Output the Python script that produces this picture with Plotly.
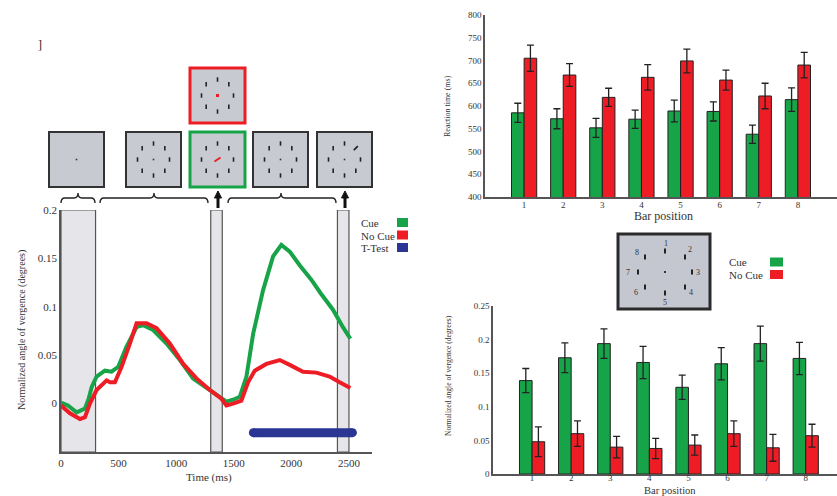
import math
import plotly.graph_objects as go

W, H = 837, 496
SERIF = "Liberation Serif"
GREEN = "#17a348"
RED = "#ee1c25"
BLUE = "#2b3593"
DARK = "#333333"

# ---- line chart data (time in ms, normalized vergence in degrees) ----
t_cue = [0, 60, 136, 208, 240, 266, 309, 381, 439, 497, 569, 656, 714, 800, 916, 1032, 1147,
         1263, 1379, 1436, 1494, 1552, 1610, 1668, 1754, 1841, 1913, 1986, 2072, 2173, 2254,
         2361, 2448, 2512]
v_cue = [0.001, -0.002, -0.009, -0.005, 0.005, 0.017, 0.028, 0.034, 0.033, 0.038, 0.059, 0.079,
         0.081, 0.076, 0.062, 0.045, 0.026, 0.016, 0.006, 0.002, 0.004, 0.007, 0.028, 0.072,
         0.117, 0.152, 0.164, 0.157, 0.143, 0.128, 0.114, 0.097, 0.079, 0.067]
t_nocue = [0, 78, 165, 208, 251, 309, 396, 425, 468, 526, 598, 656, 743, 829, 945, 1061, 1176,
           1292, 1393, 1436, 1494, 1566, 1624, 1682, 1783, 1899, 1986, 2101, 2217, 2332, 2419, 2512]
v_nocue = [-0.002, -0.010, -0.016, -0.014, 0.000, 0.014, 0.024, 0.022, 0.022, 0.038, 0.062, 0.083,
           0.083, 0.078, 0.062, 0.041, 0.026, 0.014, 0.005, -0.002, 0.000, 0.003, 0.022, 0.034,
           0.041, 0.045, 0.040, 0.033, 0.032, 0.028, 0.022, 0.016]
ttest_span = [1670, 2530]
ttest_level = -0.030
windows = [(0, 300), (1300, 1400), (2400, 2500)]
time_ticks = [0, 500, 1000, 1500, 2000, 2500]
verg_ticks = [0, 0.05, 0.1, 0.15, 0.2]
verg_ticklabels = ["0", "0.05", "0.1", "0.15", "0.2"]

# ---- bar chart data ----
positions = [1, 2, 3, 4, 5, 6, 7, 8]
rt_cue = [585, 572, 552, 571, 589, 588, 538, 614]
rt_cue_err = [21, 22, 21, 20, 24, 21, 20, 26]
rt_nocue = [705, 668, 619, 663, 699, 657, 622, 690]
rt_nocue_err = [29, 25, 20, 28, 26, 22, 28, 28]
rt_ticks = [400, 450, 500, 550, 600, 650, 700, 750, 800]

vg_cue = [0.139, 0.173, 0.194, 0.166, 0.129, 0.164, 0.194, 0.172]
vg_cue_err = [0.018, 0.022, 0.022, 0.024, 0.018, 0.024, 0.026, 0.024]
vg_nocue = [0.048, 0.060, 0.040, 0.038, 0.043, 0.060, 0.039, 0.057]
vg_nocue_err = [0.022, 0.019, 0.016, 0.015, 0.015, 0.019, 0.020, 0.017]
vg_ticks = [0, 0.05, 0.1, 0.15, 0.2, 0.25]
vg_ticklabels = ["0", "0.05", "0.1", "0.15", "0.2", "0.25"]


def px(x):
    return x / W


def py(y):
    return 1 - y / H


fig = go.Figure()

# line chart
fig.add_trace(go.Scatter(x=t_cue, y=v_cue, mode="lines", line=dict(color=GREEN, width=4),
                         xaxis="x", yaxis="y", showlegend=False, hoverinfo="skip"))
fig.add_trace(go.Scatter(x=t_nocue, y=v_nocue, mode="lines", line=dict(color=RED, width=4),
                         xaxis="x", yaxis="y", showlegend=False, hoverinfo="skip"))
fig.add_trace(go.Scatter(x=ttest_span, y=[ttest_level, ttest_level], mode="lines+markers",
                         line=dict(color=BLUE, width=9), marker=dict(color=BLUE, size=9),
                         xaxis="x", yaxis="y", showlegend=False, hoverinfo="skip"))

err_style = dict(type="data", color="#222", thickness=1.3, width=3.5)
bar_line = dict(color="#222", width=1)
fig.add_trace(go.Bar(x=positions, y=rt_cue, error_y=dict(array=rt_cue_err, **err_style),
                     marker=dict(color=GREEN, line=bar_line), xaxis="x2", yaxis="y2", showlegend=False))
fig.add_trace(go.Bar(x=positions, y=rt_nocue, error_y=dict(array=rt_nocue_err, **err_style),
                     marker=dict(color=RED, line=bar_line), xaxis="x2", yaxis="y2", showlegend=False))
fig.add_trace(go.Bar(x=positions, y=vg_cue, error_y=dict(array=vg_cue_err, **err_style),
                     marker=dict(color=GREEN, line=bar_line), xaxis="x3", yaxis="y3", showlegend=False))
fig.add_trace(go.Bar(x=positions, y=vg_nocue, error_y=dict(array=vg_nocue_err, **err_style),
                     marker=dict(color=RED, line=bar_line), xaxis="x3", yaxis="y3", showlegend=False))

shapes = []
annotations = []

# time windows (data coords)
for a, b in windows:
    shapes.append(dict(type="rect", xref="x", yref="y", x0=a, x1=b, y0=-0.05, y1=0.2,
                       fillcolor="#e6e6ea", line=dict(color="#555", width=1.2), layer="below"))


def rect_px(x0, y0, x1, y1, fill, lc=None, lw=0):
    shapes.append(dict(type="rect", xref="paper", yref="paper", x0=px(x0), x1=px(x1),
                       y0=py(y1), y1=py(y0), fillcolor=fill,
                       line=dict(color=lc if lc else fill, width=lw)))


def path_px(points, color, width, fill=None, closed=False):
    d = "M " + " L ".join(f"{px(x):.5f},{py(y):.5f}" for x, y in points)
    if closed:
        d += " Z"
    shapes.append(dict(type="path", xref="paper", yref="paper", path=d,
                       line=dict(color=color, width=width),
                       fillcolor=fill if fill else "rgba(0,0,0,0)"))


def text_px(x, y, s, size, color=DARK, xanchor="center", angle=0):
    annotations.append(dict(xref="paper", yref="paper", x=px(x), y=py(y), text=s,
                            showarrow=False, xanchor=xanchor, yanchor="middle", textangle=angle,
                            font=dict(family=SERIF, size=size, color=color)))


def stim_panel(x0, y0, size, border, bw, center="dot", tilted=None):
    rect_px(x0, y0, x0 + size, y0 + size, "#c7cad1", border, bw)
    cx, cy = x0 + size / 2, y0 + size / 2
    if center is not None:
        r = 16
        for k in range(8):
            a = math.radians(90 - 45 * k)
            bx, by = cx + r * math.cos(a), cy - r * math.sin(a)
            if tilted == k:
                path_px([(bx - 2, by + 2), (bx + 2, by - 2)], "#222", 1.8)
            else:
                rect_px(bx - 0.8, by - 2.2, bx + 0.8, by + 2.2, "#222")
    if center == "dot" or center is None:
        rect_px(cx - 0.8, cy - 0.8, cx + 0.8, cy + 0.8, "#333")
    elif center == "reddot":
        rect_px(cx - 1.5, cy - 1.5, cx + 1.5, cy + 1.5, RED)
    elif center == "redline":
        path_px([(cx - 3, cy + 2), (cx + 3, cy - 2)], RED, 2)


stim_panel(49, 132, 55, "#333", 2, center=None)
stim_panel(126, 132, 55, "#333", 2, center="dot")
stim_panel(190, 132, 55, GREEN, 3, center="redline")
stim_panel(190, 68, 55, RED, 3, center="reddot")
stim_panel(253, 132, 55, "#333", 2, center="dot")
stim_panel(317, 132, 55, "#333", 2, center="dot", tilted=1)


def brace(x0, x1, xm):
    yb, ym, yt = 203, 198, 193
    d = (f"M {px(x0)},{py(yb)} Q {px(x0)},{py(ym)} {px(x0 + 4)},{py(ym)} "
         f"L {px(xm - 4)},{py(ym)} Q {px(xm)},{py(ym)} {px(xm)},{py(yt)} "
         f"Q {px(xm)},{py(ym)} {px(xm + 4)},{py(ym)} L {px(x1 - 4)},{py(ym)} "
         f"Q {px(x1)},{py(ym)} {px(x1)},{py(yb)}")
    shapes.append(dict(type="path", xref="paper", yref="paper", path=d,
                       line=dict(color="#222", width=1.4)))


brace(61, 95, 78)
brace(100, 208, 154)
brace(228, 336, 281)


def arrow(x):
    path_px([(x, 208), (x, 197)], "#111", 3)
    path_px([(x - 3.5, 198), (x + 3.5, 198), (x, 191)], "#111", 1, fill="#111", closed=True)


arrow(218)
arrow(345)

text_px(40, 45, "]", 12, color="#222")

# line chart legend
for i, (lab, col) in enumerate([("Cue", GREEN), ("No Cue", RED), ("T-Test", BLUE)]):
    yy = 223 + 12.5 * i
    text_px(359, yy, lab, 11, xanchor="left")
    rect_px(397, yy - 5, 408, yy + 4, col)

# axis titles
text_px(22, 330, "Normalized angle of vergence (degrees)", 10, angle=-90)
text_px(209, 477, "Time (ms)", 11)
text_px(447, 106, "Reaction time (ms)", 8, angle=-90)
text_px(663, 216, "Bar position", 12)
text_px(448, 376, "Normalized angle of vergence (degrees)", 7.5, angle=-90)
text_px(670, 490, "Bar position", 10.5)

# inset diagram
rect_px(618, 234, 710, 309, "#c4c7cf", "#2a2a2a", 3)
icx, icy = 665, 272
offs = [(0, -21), (20, -15), (27, 0), (20, 15), (0, 21), (-20, 15), (-27, 0), (-20, -15)]
lab_offs = [(1, -29), (25, -23), (33, 0), (26, 20), (0, 30), (-29, 20), (-37, 0), (-28, -20)]
for i, ((dx, dy), (lx, ly)) in enumerate(zip(offs, lab_offs)):
    rect_px(icx + dx - 1, icy + dy - 2.5, icx + dx + 1, icy + dy + 2.5, "#222")
    text_px(icx + lx, icy + ly, str(i + 1), 8, color="#333")
rect_px(icx - 1, icy - 1, icx + 1, icy + 1, "#333")

# bar chart legend
for i, (lab, col) in enumerate([("Cue", GREEN), ("No Cue", RED)]):
    yy = 262 + 12.5 * i
    text_px(727, yy, lab, 11, xanchor="left")
    rect_px(770, yy - 4.5, 783, yy + 4.5, col)

tickfont_l = dict(family=SERIF, size=11, color=DARK)
tickfont_s = dict(family=SERIF, size=9, color=DARK)
ax_common = dict(showline=True, linecolor="#555", linewidth=1.5, showgrid=False, zeroline=False,
                 ticks="", fixedrange=True, automargin=False)

fig.update_layout(
    width=W, height=H, margin=dict(l=0, r=0, t=0, b=0, pad=0),
    paper_bgcolor="white", plot_bgcolor="rgba(0,0,0,0)",
    barmode="group", bargap=0.355, bargroupgap=0,
    xaxis=dict(domain=[px(61), px(372)], range=[0, 2700], tickvals=time_ticks,
               tickfont=tickfont_l, anchor="y", **ax_common),
    yaxis=dict(domain=[py(452), py(210)], range=[-0.05, 0.2], tickvals=verg_ticks,
               ticktext=verg_ticklabels, tickfont=tickfont_l, anchor="x", **ax_common),
    xaxis2=dict(domain=[px(485), 1], range=[0, 9], tickvals=positions, tickfont=tickfont_s,
                anchor="y2", ticklabelstandoff=-2, **ax_common),
    yaxis2=dict(domain=[py(197), py(15)], range=[400, 800], tickvals=rt_ticks,
                tickfont=tickfont_s, anchor="x2", **ax_common),
    xaxis3=dict(domain=[px(493), 1], range=[0, 8.8], tickvals=positions, tickfont=tickfont_s,
                anchor="y3", ticklabelstandoff=-6, **ax_common),
    yaxis3=dict(domain=[py(474), py(306)], range=[0, 0.25], tickvals=vg_ticks,
                ticktext=vg_ticklabels, tickfont=tickfont_s, anchor="x3", **ax_common),
    shapes=shapes, annotations=annotations,
)

fig.write_html("out.html", config={"displayModeBar": False},
               post_script="document.body.style.margin='0';")
